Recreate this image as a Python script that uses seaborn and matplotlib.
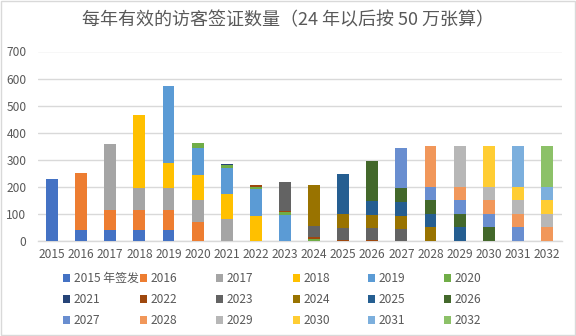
import matplotlib
matplotlib.use("Agg")
import matplotlib.pyplot as plt
from matplotlib.patches import Patch, Rectangle
import seaborn as sns
import pandas as pd
import numpy as np

years = [str(y) for y in range(2015, 2033)]
cohort_labels = ["2015 年签发"] + [str(y) for y in range(2016, 2033)]

#           15   16   17   18   19   20   21   22   23   24   25   26   27   28   29   30   31   32
c2015 = [230,  40,  40,  40,  40,   0,   0,   0,   0,   0,   0,   0,   0,   0,   0,   0,   0,   0]
c2016 = [  0, 211,  74,  74,  74,  71,   0,   0,   0,   0,   0,   0,   0,   0,   0,   0,   0,   0]
c2017 = [  0,   0, 244,  83,  83,  80,  81,   0,   0,   0,   0,   0,   0,   0,   0,   0,   0,   0]
c2018 = [  0,   0,   0, 268,  91,  92,  94,  93,   0,   0,   0,   0,   0,   0,   0,   0,   0,   0]
c2019 = [  0,   0,   0,   0, 284, 101,  96,  98,  96,   0,   0,   0,   0,   0,   0,   0,   0,   0]
c2020 = [  0,   0,   0,   0,   0,  17,  11,   8,  11,   7,   0,   0,   0,   0,   0,   0,   0,   0]
c2021 = [  0,   0,   0,   0,   0,   0,   3,   1,   1,   1,   0,   0,   0,   0,   0,   0,   0,   0]
c2022 = [  0,   0,   0,   0,   0,   0,   0,   6,   3,   7,   5,   5,   0,   0,   0,   0,   0,   0]
c2023 = [  0,   0,   0,   0,   0,   0,   0,   0, 107,  42,  44,  44,  44,   0,   0,   0,   0,   0]
c2024 = [  0,   0,   0,   0,   0,   0,   0,   0,   0, 150,  50,  48,  50,  50,   0,   0,   0,   0]
c2025 = [  0,   0,   0,   0,   0,   0,   0,   0,   0,   0, 148,  50,  50,  50,  50,   0,   0,   0]
c2026 = [  0,   0,   0,   0,   0,   0,   0,   0,   0,   0,   0, 148,  50,  50,  50,  50,   0,   0]
c2027 = [  0,   0,   0,   0,   0,   0,   0,   0,   0,   0,   0,   0, 150,  50,  50,  50,  50,   0]
c2028 = [  0,   0,   0,   0,   0,   0,   0,   0,   0,   0,   0,   0,   0, 150,  50,  50,  50,  50]
c2029 = [  0,   0,   0,   0,   0,   0,   0,   0,   0,   0,   0,   0,   0,   0, 150,  50,  50,  50]
c2030 = [  0,   0,   0,   0,   0,   0,   0,   0,   0,   0,   0,   0,   0,   0,   0, 150,  50,  50]
c2031 = [  0,   0,   0,   0,   0,   0,   0,   0,   0,   0,   0,   0,   0,   0,   0,   0, 150,  50]
c2032 = [  0,   0,   0,   0,   0,   0,   0,   0,   0,   0,   0,   0,   0,   0,   0,   0,   0, 150]

cohorts = [c2015, c2016, c2017, c2018, c2019, c2020, c2021, c2022, c2023,
           c2024, c2025, c2026, c2027, c2028, c2029, c2030, c2031, c2032]

colors = ["#4472C4", "#ED7D31", "#A5A5A5", "#FFC000", "#5B9BD5", "#70AD47",
          "#264478", "#9E480E", "#636363", "#997300", "#255E91", "#43682B",
          "#698ED0", "#F1975A", "#B7B7B7", "#FFCD33", "#7CAFDD", "#8CC168"]

sns.set_theme(style="white")
plt.rcParams['font.family'] = ['Noto Sans CJK SC', 'DejaVu Sans']
txt = "#595959"

fig = plt.figure(figsize=(5.76, 3.36), dpi=100)
ax = fig.add_axes([37.5/576, 1 - 241/336, (561.5-37.5)/576, (241-51.5)/336])

bottom = np.zeros(len(years))
for vals, col in zip(cohorts, colors):
    df = pd.DataFrame({"year": years, "v": vals})
    sns.barplot(data=df, x="year", y="v", order=years, color=col, bottom=bottom,
                width=0.41, errorbar=None, ax=ax, saturation=1, linewidth=0, zorder=3)
    bottom = bottom + np.array(vals)

ax.set_ylim(0, 700)
ax.set_yticks(range(0, 701, 100))
ax.set_xlim(-0.5, 17.5)
ax.set_xlabel("")
ax.set_ylabel("")
ax.yaxis.grid(True, color="#D9D9D9", linewidth=1, zorder=0)
ax.set_axisbelow(True)
for s in ["top", "right", "left"]:
    ax.spines[s].set_visible(False)
ax.spines["bottom"].set_color("#D9D9D9")
ax.spines["bottom"].set_linewidth(1)
ax.tick_params(axis="both", length=0, labelsize=8.6, colors=txt)
ax.tick_params(axis="y", pad=8)
ax.tick_params(axis="x", pad=5)

fig.text(0.5, 1 - 20/336, "每年有效的访客签证数量（24 年以后按 50 万张算）",
         ha="center", va="center", fontsize=13, color=txt)

col_x = [64, 141, 217, 294, 369, 445]
for c in range(6):
    idx = [c, c + 6, c + 12]
    handles = [Patch(facecolor=colors[i], edgecolor="none") for i in idx]
    labels = [cohort_labels[i] for i in idx]
    leg = fig.legend(handles, labels, loc="upper left",
                     bbox_to_anchor=((col_x[c] - 1) / 576, 1 - 272/336),
                     frameon=False, fontsize=8.6, borderpad=0, borderaxespad=0,
                     handlelength=0.6, handleheight=0.6, handletextpad=0.3,
                     labelspacing=0.68, labelcolor=txt)

fig.patches.append(Rectangle((0.001, 0.002), 0.997, 0.995, transform=fig.transFigure,
                             fill=False, edgecolor="#D9D9D9", linewidth=1))

fig.savefig("out.png", dpi=100, facecolor="white")
